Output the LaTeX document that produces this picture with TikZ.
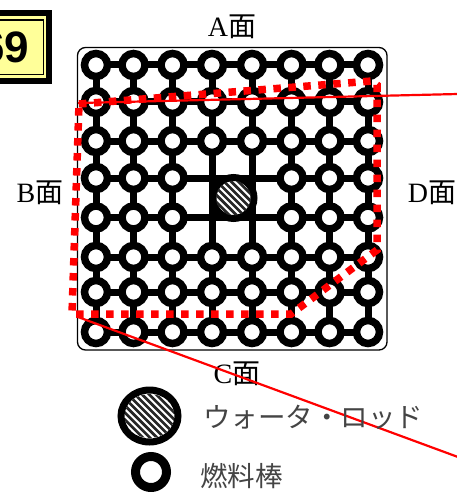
\documentclass[tikz,border=0pt]{standalone}
\usepackage{fontspec}
\setmainfont{Liberation Serif}
\setsansfont{Liberation Sans}
\newfontfamily\jp{Noto Sans CJK JP}
\usetikzlibrary{shapes.geometric}
\definecolor{plateyellow}{HTML}{FFFF99}
\definecolor{inkgray}{HTML}{444444}
\tikzset{
  rod/.style={circle,draw=black,line width=7.5pt,fill=white,minimum size=23pt,inner sep=0pt,outer sep=0pt},
  tie/.style={draw=black,line width=7pt},
  redline/.style={draw=red,line width=2.2pt},
  reddots/.style={draw=red,line width=7.5pt,dash pattern=on 7.5pt off 7.5pt},
  face/.style={inner sep=0pt,font=\fontsize{28}{28}\selectfont},
  legendtxt/.style={inner sep=0pt,anchor=west,text=inkgray,font=\jp\fontsize{27.5}{28}\selectfont},
}
\begin{document}
\begin{tikzpicture}[x=1pt,y=-1pt]
\useasboundingbox (0,0) rectangle (457,492);
\def\colsx{{96,133.5,172.5,212,252,291.5,329.5,368}}
\def\rowsy{{65,102,141,178,217.5,257,292,332}}
% frame
\draw[black,line width=1.3pt,rounded corners=8pt,fill=white] (77.5,47.5) rectangle (387,350);
% grid points
\foreach \i in {0,...,7}{
  \foreach \j in {0,...,7}{
    \pgfmathsetmacro\px{\colsx[\i]}
    \pgfmathsetmacro\py{\rowsy[\j]}
    \coordinate (g-\i-\j) at (\px,\py);
  }
}
% ties
\foreach \j in {0,...,7}{
  \foreach \i in {0,...,6}{
    \pgfmathtruncatemacro\nxt{\i+1}
    \draw[tie] (g-\i-\j) -- (g-\nxt-\j);
  }
}
\foreach \i in {0,...,7}{
  \foreach \j in {0,...,6}{
    \pgfmathtruncatemacro\nxt{\j+1}
    \draw[tie] (g-\i-\j) -- (g-\i-\nxt);
  }
}
% rods
\foreach \i in {0,...,7}{
  \foreach \j in {0,...,7}{
    \pgfmathtruncatemacro\omit{(\i==3||\i==4)&&(\j==3||\j==4)?1:0}
    \ifnum\omit=0
      \node[rod] (r-\i-\j) at (g-\i-\j) {};
    \fi
  }
}
% water rod in the core
\node[circle,draw=black,fill=white,line width=7pt,minimum size=41pt,inner sep=0pt,outer sep=0pt] (core) at (233.5,198) {};
\begin{scope}
  \clip (233.5,198) circle (17.5);
  \foreach \d in {-40,-35,...,40}
    \draw[black!85,line width=2.7pt] (233.5+\d*1.414-40,158) -- (233.5+\d*1.414+40,238);
\end{scope}
% plate number
\fill[black] (-10,10) rectangle (52,84);
\fill[plateyellow] (-10,16) rectangle (46,78);
\draw[black,line width=1.4pt] (-10,20) -- (43.5,20) -- (43.5,74.5) -- (-10,74.5);
\node[inner sep=0pt,font=\sffamily\bfseries\fontsize{44}{44}\selectfont] (plate) at (5,47) {69};
% face labels
\node[face] (fa) at (232,27) {A{\jp 面}};
\node[face] (fb) at (40,193) {B{\jp 面}};
\node[face] (fd) at (432,193) {D{\jp 面}};
\node[face] (fc) at (237,374) {C{\jp 面}};
% red region
\coordinate (p1) at (79,104);
\coordinate (p2) at (372,81);
\coordinate (p3) at (377,85);
\coordinate (p4) at (377,250);
\coordinate (p5) at (291,314);
\coordinate (p6) at (72,314);
\draw[reddots] (p1) -- (p2) -- (p3) -- (p4) -- (p5) -- (p6) -- (p1);
\coordinate (l1) at (458,94);
\coordinate (l2) at (78,103);
\coordinate (l3) at (78,317);
\coordinate (l4) at (458,457);
\draw[redline] (l1) -- (l2);
\draw[redline] (l3) -- (l4);
% legend
\node[ellipse,draw=black,fill=white,line width=7pt,minimum width=57pt,minimum height=52pt,inner sep=0pt] (lw) at (149.5,416) {};
\begin{scope}
  \clip (149.5,416) ellipse (25 and 22);
  \foreach \d in {-40,-35,...,40}
    \draw[black!85,line width=2.7pt] (149.5+\d*1.414-40,376) -- (149.5+\d*1.414+40,456);
\end{scope}
\node[rod,line width=9pt,minimum size=31pt] (lr) at (151,472) {};
\node[legendtxt] (t1) at (203,417) {ウォータ・ロッド};
\node[legendtxt] (t2) at (200,476) {燃料棒};
\end{tikzpicture}
\end{document}
